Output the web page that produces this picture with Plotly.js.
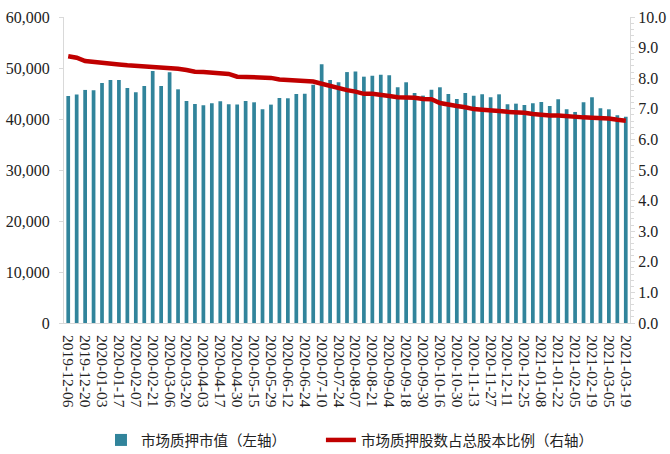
<!DOCTYPE html>
<html>
<head>
<meta charset="utf-8">
<script src="https://cdn.plot.ly/plotly-3.0.1.min.js"></script>
<style>html,body{margin:0;padding:0;background:#fff;}#chart{width:670px;height:454px;}</style>
</head>
<body>
<div id="chart"></div>
<script>
const dates = [
"2019-12-06","2019-12-13","2019-12-20","2019-12-27","2020-01-03","2020-01-10","2020-01-17","2020-01-23",
"2020-02-07","2020-02-14","2020-02-21","2020-02-28","2020-03-06","2020-03-13","2020-03-20","2020-03-27",
"2020-04-03","2020-04-10","2020-04-17","2020-04-24","2020-04-30","2020-05-08","2020-05-15","2020-05-22",
"2020-05-29","2020-06-05","2020-06-12","2020-06-19","2020-06-24","2020-07-03","2020-07-10","2020-07-17",
"2020-07-24","2020-07-31","2020-08-07","2020-08-14","2020-08-21","2020-08-28","2020-09-04","2020-09-11",
"2020-09-18","2020-09-25","2020-09-30","2020-10-09","2020-10-16","2020-10-23","2020-10-30","2020-11-06",
"2020-11-13","2020-11-20","2020-11-27","2020-12-04","2020-12-11","2020-12-18","2020-12-25","2020-12-31",
"2021-01-08","2021-01-15","2021-01-22","2021-01-29","2021-02-05","2021-02-10","2021-02-19","2021-02-26",
"2021-03-05","2021-03-12","2021-03-19"];

const pledgeValue = [
44500,44780,45700,45630,47060,47650,47650,46080,
45240,46470,49420,46470,49160,45820,43530,42940,
42690,43080,43470,42880,42820,43530,43270,41900,
42820,44120,44060,44900,44970,46730,50730,47650,
47200,49200,49290,48300,48500,48690,48570,46220,
47200,45100,44580,45750,46220,44900,43930,45100,
44580,44840,44260,44840,42880,43010,42750,43080,
43340,42550,43870,41900,41380,43270,44260,42100,
41900,40730,40460];

const pledgeRatio = [
8.72,8.67,8.56,8.54,8.51,8.47,8.45,8.42,
8.40,8.41,8.38,8.34,8.32,8.31,8.27,8.21,
8.20,8.18,8.17,8.14,8.05,8.04,8.02,8.03,
8.01,7.96,7.94,7.90,7.91,7.89,7.82,7.75,
7.66,7.61,7.56,7.49,7.49,7.44,7.42,7.38,
7.38,7.36,7.32,7.31,7.19,7.13,7.09,7.05,
6.99,6.97,6.96,6.93,6.90,6.89,6.87,6.83,
6.80,6.78,6.78,6.75,6.72,6.72,6.71,6.70,
6.68,6.64,6.61];

const tickDates = dates.filter((d, i) => i % 2 === 0);

const seriesNames = ["市场质押市值（左轴）", "市场质押股数占总股本比例（右轴）"];

const serif = "Liberation Serif, Times New Roman, serif";
const cjk = "Noto Sans CJK SC, sans-serif";

const traces = [
  {
    type: "bar", x: dates, y: pledgeValue, name: seriesNames[0],
    marker: {color: "#31849B"}, yaxis: "y", legend: "legend"
  },
  {
    type: "scatter", mode: "lines", x: dates, y: pledgeRatio, name: seriesNames[1],
    line: {color: "#C00000", width: 4.5}, yaxis: "y2", legend: "legend2"
  }
];

const layout = {
  width: 670, height: 454,
  margin: {l: 64, r: 40, t: 17, b: 131, pad: 0, autoexpand: false},
  paper_bgcolor: "#fff", plot_bgcolor: "#fff",
  bargap: 0.56,
  font: {family: serif, size: 16, color: "#222"},
  xaxis: {
    type: "category", tickmode: "array", tickvals: tickDates, ticktext: tickDates,
    tickangle: 90, tickfont: {family: serif, size: 15.5, color: "#222"},
    showline: true, linecolor: "#D9D9D9", linewidth: 1, ticks: "", showgrid: false,
    ticklabelstandoff: 8, automargin: false
  },
  yaxis: {
    range: [0, 60000], dtick: 10000, tickformat: ",d",
    tickfont: {family: serif, size: 16, color: "#222"},
    showline: true, linecolor: "#D9D9D9", linewidth: 1, showgrid: false, zeroline: false,
    ticks: "outside", ticklen: 4, tickcolor: "#D9D9D9", ticklabelstandoff: 6, automargin: false
  },
  yaxis2: {
    range: [0, 10], dtick: 1, tickformat: ".1f", overlaying: "y", side: "right",
    tickfont: {family: serif, size: 16, color: "#222"},
    showline: true, linecolor: "#D9D9D9", linewidth: 1, showgrid: false, zeroline: false,
    ticks: "outside", ticklen: 4, tickcolor: "#D9D9D9", automargin: false,
    minor: {dtick: 0.2, ticks: "outside", ticklen: 3, tickcolor: "#D9D9D9", showgrid: false}
  },
  legend: {
    xref: "container", yref: "container",
    x: 0.1507, y: 0.0308, xanchor: "left", yanchor: "middle", orientation: "h",
    font: {family: cjk, size: 14.5, color: "#222"}, bgcolor: "rgba(0,0,0,0)"
  },
  legend2: {
    xref: "container", yref: "container",
    x: 0.479, y: 0.0308, xanchor: "left", yanchor: "middle", orientation: "h",
    font: {family: cjk, size: 14.5, color: "#222"}, bgcolor: "rgba(0,0,0,0)"
  },
  showlegend: true
};

Plotly.newPlot("chart", traces, layout, {displayModeBar: false, staticPlot: true});
</script>
</body>
</html>
